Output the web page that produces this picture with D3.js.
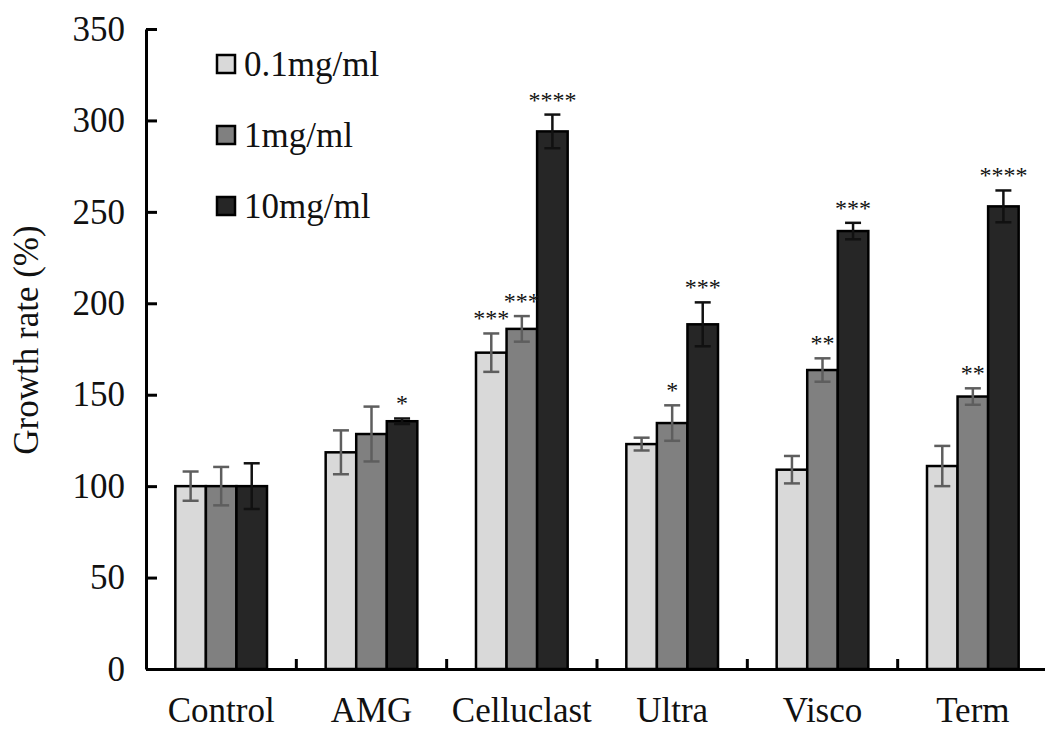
<!DOCTYPE html>
<html>
<head>
<meta charset="utf-8">
<script src="https://d3js.org/d3.v7.min.js"></script>
<style>
  body { margin: 0; background: #fff; }
</style>
</head>
<body>
<script>
// Data
const categories = ['Control', 'AMG', 'Celluclast', 'Ultra', 'Visco', 'Term'];
const series = ['0.1mg/ml', '1mg/ml', '10mg/ml'];
const low = [100, 118.5, 173, 123, 109, 111];      // 0.1mg/ml
const mid = [100, 128.5, 186, 134.5, 163.5, 149];  // 1mg/ml
const high = [100, 135.5, 294, 188.5, 239.5, 253]; // 10mg/ml
const lowErr = [8, 12, 10.5, 3.5, 7.5, 11];
const midErr = [10.5, 15, 7, 9.7, 6.4, 4.5];
const highErr = [12.5, 1.5, 9.2, 12, 4.5, 8.7];
const lowStars = ['', '', '***', '', '', ''];
const midStars = ['', '', '***', '*', '**', '**'];
const highStars = ['', '*', '****', '***', '***', '****'];
const yTicks = [0, 50, 100, 150, 200, 250, 300, 350];

const width = 1045, height = 733;
const serif = '"Liberation Serif", "Times New Roman", serif';
const fills = ['#d9d9d9', '#808080', '#262626'];
const errColors = ['#5e5e5e', '#5e5e5e', '#111'];

const values = [low, mid, high], errs = [lowErr, midErr, highErr], stars = [lowStars, midStars, highStars];
const rows = [];
categories.forEach((c, i) => {
    series.forEach((s, j) => {
        rows.push({cat: c, s: s, j: j, v: values[j][i], e: errs[j][i], star: stars[j][i]});
    });
});

const svg = d3.select('body').append('svg')
    .attr('width', width)
    .attr('height', height)
    .style('font-family', serif);

const y = d3.scaleLinear().domain([0, 350]).range([669, 29]);
const x0 = d3.scaleBand().domain(categories).range([146, 1048]);
const x1 = d3.scaleBand().domain(series).range([0, x0.bandwidth()]).paddingOuter(0.96);

// bars
svg.append('g').selectAll('rect')
    .data(rows).enter()
    .append('rect')
    .attr('x', d => x0(d.cat) + x1(d.s))
    .attr('y', d => y(d.v))
    .attr('width', x1.bandwidth())
    .attr('height', d => y(0) - y(d.v))
    .attr('fill', d => fills[d.j])
    .attr('stroke', '#000')
    .attr('stroke-width', 2.5);

// error bars
const eb = svg.append('g').selectAll('g')
    .data(rows).enter()
    .append('g')
    .attr('stroke', d => errColors[d.j])
    .attr('stroke-width', 2.5);
const cx = d => x0(d.cat) + x1(d.s) + x1.bandwidth() / 2;
eb.append('line')
    .attr('x1', cx).attr('x2', cx)
    .attr('y1', d => y(d.v + d.e)).attr('y2', d => y(d.v - d.e));
eb.append('line')
    .attr('x1', d => cx(d) - 8).attr('x2', d => cx(d) + 8)
    .attr('y1', d => y(d.v + d.e)).attr('y2', d => y(d.v + d.e));
eb.append('line')
    .attr('x1', d => cx(d) - 8).attr('x2', d => cx(d) + 8)
    .attr('y1', d => y(d.v - d.e)).attr('y2', d => y(d.v - d.e));

// significance stars
svg.append('g').selectAll('text')
    .data(rows.filter(d => d.star)).enter()
    .append('text')
    .attr('x', cx)
    .attr('y', d => y(d.v + d.e) - 7)
    .attr('text-anchor', 'middle')
    .attr('font-size', 24)
    .style('font-family', serif)
    .attr('fill', '#111')
    .text(d => d.star);

// y axis, ticks point inward
const yAxis = svg.append('g')
    .attr('transform', 'translate(146,0)')
    .call(d3.axisLeft(y).tickValues(yTicks).tickSize(-11).tickPadding(21).tickSizeOuter(0));
yAxis.selectAll('text').attr('font-size', 35).style('font-family', serif).attr('fill', '#111');
yAxis.selectAll('line, path').attr('stroke', '#000').attr('stroke-width', 3);

// x axis with ticks between groups
const xAxis = svg.append('g')
    .attr('transform', 'translate(0,669)')
    .call(d3.axisBottom(x0).tickSize(0).tickPadding(28).tickSizeOuter(0));
xAxis.select('path').attr('stroke', '#000').attr('stroke-width', 3);
xAxis.selectAll('text').attr('font-size', 35).style('font-family', serif).attr('fill', '#111');
svg.append('g').selectAll('line')
    .data(categories.slice(1)).enter()
    .append('line')
    .attr('x1', d => x0(d)).attr('x2', d => x0(d))
    .attr('y1', 669).attr('y2', 659)
    .attr('stroke', '#000').attr('stroke-width', 3);

// y label
svg.append('text')
    .attr('transform', 'translate(38,340) rotate(-90)')
    .attr('text-anchor', 'middle')
    .attr('font-size', 35)
    .style('font-family', serif)
    .attr('fill', '#111')
    .text('Growth rate (%)');

// legend
const legend = svg.append('g').selectAll('g')
    .data(series).enter()
    .append('g')
    .attr('transform', (d, i) => 'translate(217,' + (64 + i * 71) + ')');
legend.append('rect')
    .attr('x', 0).attr('y', -9)
    .attr('width', 18).attr('height', 18)
    .attr('fill', (d, i) => fills[i])
    .attr('stroke', '#000').attr('stroke-width', 2.5);
legend.append('text')
    .attr('x', 27).attr('y', 12)
    .attr('font-size', 35)
    .style('font-family', serif)
    .attr('fill', '#111')
    .text(d => d);
</script>
</body>
</html>
